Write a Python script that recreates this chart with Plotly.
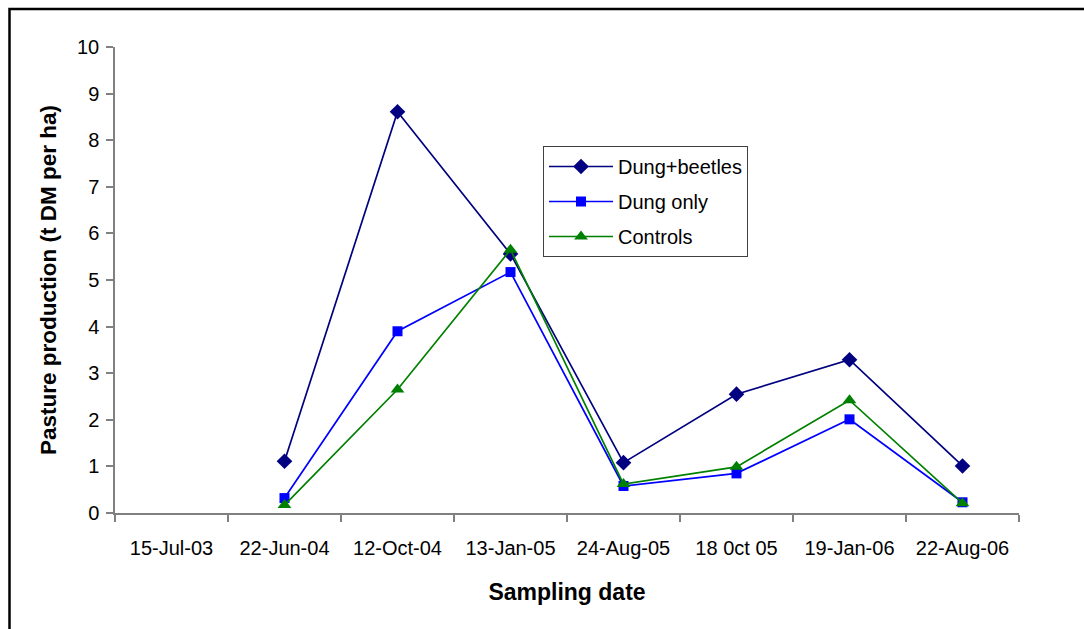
import plotly.graph_objects as go

categories = ["15-Jul-03", "22-Jun-04", "12-Oct-04", "13-Jan-05",
              "24-Aug-05", "18 0ct 05", "19-Jan-06", "22-Aug-06"]
dung_beetles = [None, 1.11, 8.61, 5.56, 1.08, 2.55, 3.29, 1.01]
dung_only = [None, 0.32, 3.90, 5.17, 0.58, 0.85, 2.01, 0.23]
controls = [None, 0.17, 2.65, 5.65, 0.62, 0.99, 2.42, 0.21]
y_ticks = [0, 1, 2, 3, 4, 5, 6, 7, 8, 9, 10]

FONT = "Liberation Sans, Arial, sans-serif"

fig = go.Figure()
series = [
    ("Dung+beetles", dung_beetles, "#000080", "diamond", 12),
    ("Dung only", dung_only, "#0000FF", "square", 10),
    ("Controls", controls, "#008000", "triangle-up", 12),
]
for i, (name, vals, col, sym, sz) in enumerate(series):
    fig.add_trace(go.Scatter(
        x=categories, y=vals, name=name, mode="lines+markers",
        line=dict(color=col, width=1.7),
        marker=dict(symbol=sym, size=sz, color=col, line=dict(width=0)),
        legendgroup=f"g{i}", connectgaps=False,
    ))

L, R, T, B = 115, 65, 47, 116
W, H = 1084, 629
pw, ph = W - L - R, H - T - B

fig.update_layout(
    width=W, height=H,
    margin=dict(l=L, r=R, t=T, b=B, pad=0),
    paper_bgcolor="white", plot_bgcolor="white",
    font=dict(family=FONT, size=20, color="black"),
    showlegend=True,
    legend=dict(
        x=(543 - L) / pw, y=(H - B - 146) / ph, xanchor="left", yanchor="top",
        bgcolor="white", bordercolor="#404040", borderwidth=1,
        font=dict(family=FONT, size=20, color="black"),
        tracegroupgap=6, itemwidth=64,
    ),
    xaxis=dict(
        type="category", categoryorder="array", categoryarray=categories,
        range=[-0.5, 7.5], tickson="boundaries",
        showline=True, linecolor="#808080", linewidth=1.5,
        ticks="outside", ticklen=7, tickcolor="#808080", tickwidth=1.5,
        showgrid=False, zeroline=False,
        tickfont=dict(family=FONT, size=20, color="black"),
        ticklabelstandoff=16,
        title=dict(text="<b>Sampling date</b>", standoff=26,
                   font=dict(family=FONT, size=23, color="black")),
    ),
    yaxis=dict(
        range=[0, 10], tickvals=y_ticks,
        showline=True, linecolor="#808080", linewidth=1.5,
        ticks="outside", ticklen=7, tickcolor="#808080", tickwidth=1.5,
        showgrid=False, zeroline=False,
        tickfont=dict(family=FONT, size=20, color="black"),
        ticklabelstandoff=3,
        title=dict(text="<b>Pasture production (t DM per ha)</b>", standoff=14,
                   font=dict(family=FONT, size=22.5, color="black")),
    ),
    shapes=[dict(
        type="rect", xref="paper", yref="paper",
        x0=(9.5 - L) / pw, x1=(W + 50 - L) / pw,
        y0=-(200) / ph, y1=(H - B - 9) / ph,
        line=dict(color="black", width=2.5), fillcolor="rgba(0,0,0,0)",
        layer="below",
    )],
)

fig.write_html("out.html")
